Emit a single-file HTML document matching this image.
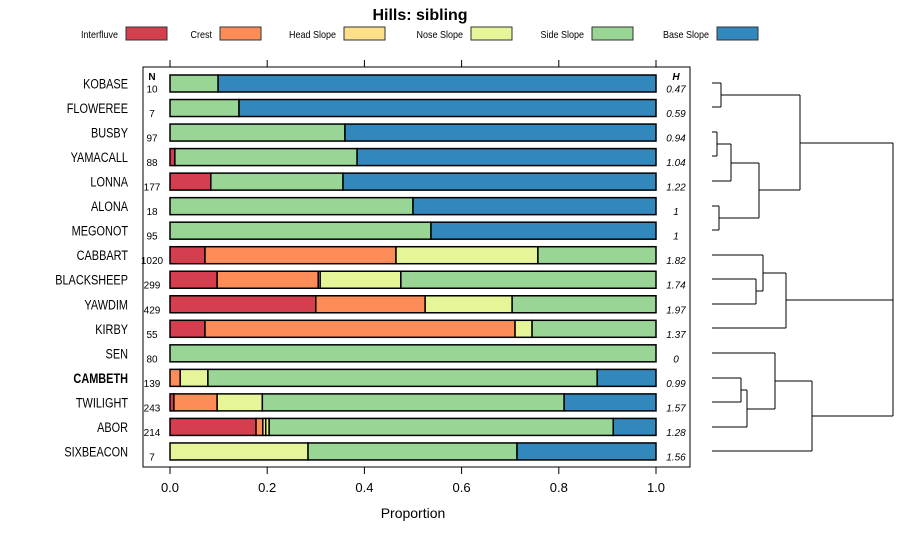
<!DOCTYPE html>
<html><head><meta charset="utf-8"><style>
body{margin:0;background:#fff}
svg text{font-family:"Liberation Sans",sans-serif}
</style></head><body>
<svg id="chart" width="900" height="540" xmlns="http://www.w3.org/2000/svg">
<text x="420" y="20" text-anchor="middle" font-size="16" font-weight="bold">Hills: sibling</text>
<g id="legend"></g>
<rect x="143" y="67" width="547" height="400" fill="none" stroke="#000" stroke-width="1"/>
<g id="bars"></g>
<g id="axis"></g>
<text x="413" y="518" text-anchor="middle" font-size="14">Proportion</text>
<text x="152" y="80" text-anchor="middle" font-size="10" font-weight="bold">N</text>
<text x="676" y="80" text-anchor="middle" font-size="10" font-weight="bold" font-style="italic">H</text>
<g id="dendro" stroke="#000" fill="none" stroke-width="1"></g>
</svg>
<script>
const ns="http://www.w3.org/2000/svg";
const classes=["Interfluve","Crest","Head Slope","Nose Slope","Side Slope","Base Slope"];
const colors=["#D53E4F","#FC8D59","#FEE08B","#E6F598","#99D594","#3288BD"];
const series=["KOBASE","FLOWEREE","BUSBY","YAMACALL","LONNA","ALONA","MEGONOT","CABBART","BLACKSHEEP","YAWDIM","KIRBY","SEN","CAMBETH","TWILIGHT","ABOR","SIXBEACON"];
const nValues=["10","7","97","88","177","18","95","1020","299","429","55","80","139","243","214","7"];
const hValues=["0.47","0.59","0.94","1.04","1.22","1","1","1.82","1.74","1.97","1.37","0","0.99","1.57","1.28","1.56"];
const interfluve=[0,0,0,0.01,0.084,0,0,0.072,0.097,0.3,0.072,0,0,0.008,0.177,0];
const crest=[0,0,0,0,0,0,0,0.393,0.208,0.225,0.638,0,0.021,0.089,0.014,0];
const headSlope=[0,0,0,0,0,0,0,0,0.004,0,0,0,0,0,0.006,0];
const noseSlope=[0,0,0,0,0,0,0,0.292,0.166,0.179,0.035,0,0.057,0.093,0.007,0.284];
const sideSlope=[0.099,0.142,0.36,0.375,0.272,0.5,0.537,0.243,0.525,0.296,0.255,1,0.801,0.621,0.708,0.43];
const baseSlope=[0.901,0.858,0.64,0.615,0.644,0.5,0.463,0,0,0,0,0,0.121,0.189,0.088,0.286];
const ticks=[0,0.2,0.4,0.6,0.8,1.0];
const tickLabels=["0.0","0.2","0.4","0.6","0.8","1.0"];
const all=[interfluve,crest,headSlope,noseSlope,sideSlope,baseSlope];
const X=v=>170+v*486;
const Y=i=>83.5+i*24.53;
function mk(tag,attrs,parent,text){const e=document.createElementNS(ns,tag);for(const k in attrs)e.setAttribute(k,attrs[k]);if(text!==undefined)e.textContent=text;parent.appendChild(e);return e;}
const lg=document.getElementById('legend');
const swX=[126,220,344,471,592,717];
classes.forEach((c,k)=>{
 const t=mk('text',{x:0,y:0,'text-anchor':'end','font-size':10,transform:`translate(${swX[k]-8},38) scale(0.9,1)`},lg,c);
 
 
 const r=mk('rect',{x:swX[k],y:27,width:41,height:13,fill:colors[k],stroke:'#333'},lg);
 
 
});
const bg=document.getElementById('bars');
series.forEach((s,i)=>{
 const y=Y(i);
 const l=mk('text',{x:0,y:0,'text-anchor':'end','font-size':14,'font-weight':s==="CAMBETH"?'bold':'normal',transform:`translate(128,${y+5}) scale(0.78,1)`},bg,s);
 
 
 const n=mk('text',{x:152,y:y+9,'text-anchor':'middle','font-size':10},bg,nValues[i]);
 
 
 const h=mk('text',{x:676,y:y+9,'text-anchor':'middle','font-size':10,'font-style':'italic'},bg,hValues[i]);
 
 
 let acc=0;
 all.forEach((arr,k)=>{
  const v=arr[i]; if(v<=0)return;
  const r=mk('rect',{x:X(acc),y:y-8.5,width:X(acc+v)-X(acc),height:17,fill:colors[k],stroke:'#000','stroke-width':1.5},bg);
  
  
  acc+=v;
 });
});
const ax=document.getElementById('axis');
ticks.forEach((t,k)=>{
 mk('line',{x1:X(t),x2:X(t),y1:60,y2:67,stroke:'#000'},ax);
 mk('line',{x1:X(t),x2:X(t),y1:467,y2:474,stroke:'#000'},ax);
 const tl=mk('text',{x:X(t),y:492,'text-anchor':'middle','font-size':13},ax,tickLabels[k]);
 
 
});
const dg=document.getElementById('dendro');
const segs=[
[712,83,721,83],[712,107,721,107],[721,83,721,107],
[712,132,717,132],[712,156,717,156],[717,132,717,156],
[717,144,731,144],[712,181,731,181],[731,144,731,181],
[712,206,719,206],[712,230,719,230],[719,206,719,230],
[731,163,759,163],[719,218,759,218],[759,163,759,218],
[721,95,800,95],[759,190,800,190],[800,95,800,190],
[712,279,756,279],[712,304,756,304],[756,279,756,304],
[712,255,763,255],[756,291,763,291],[763,255,763,291],
[763,273,786,273],[712,328,786,328],[786,273,786,328],
[712,378,741,378],[712,402,741,402],[741,378,741,402],
[741,390,747,390],[712,427,747,427],[747,390,747,427],
[712,353,775,353],[747,409,775,409],[775,353,775,409],
[775,381,812,381],[712,451,812,451],[812,381,812,451],
[800,143,893,143],[786,300,893,300],[812,416,893,416],[893,143,893,416]];
segs.forEach(s=>mk('line',{x1:s[0],y1:s[1],x2:s[2],y2:s[3]},dg));
</script>
</body></html>
